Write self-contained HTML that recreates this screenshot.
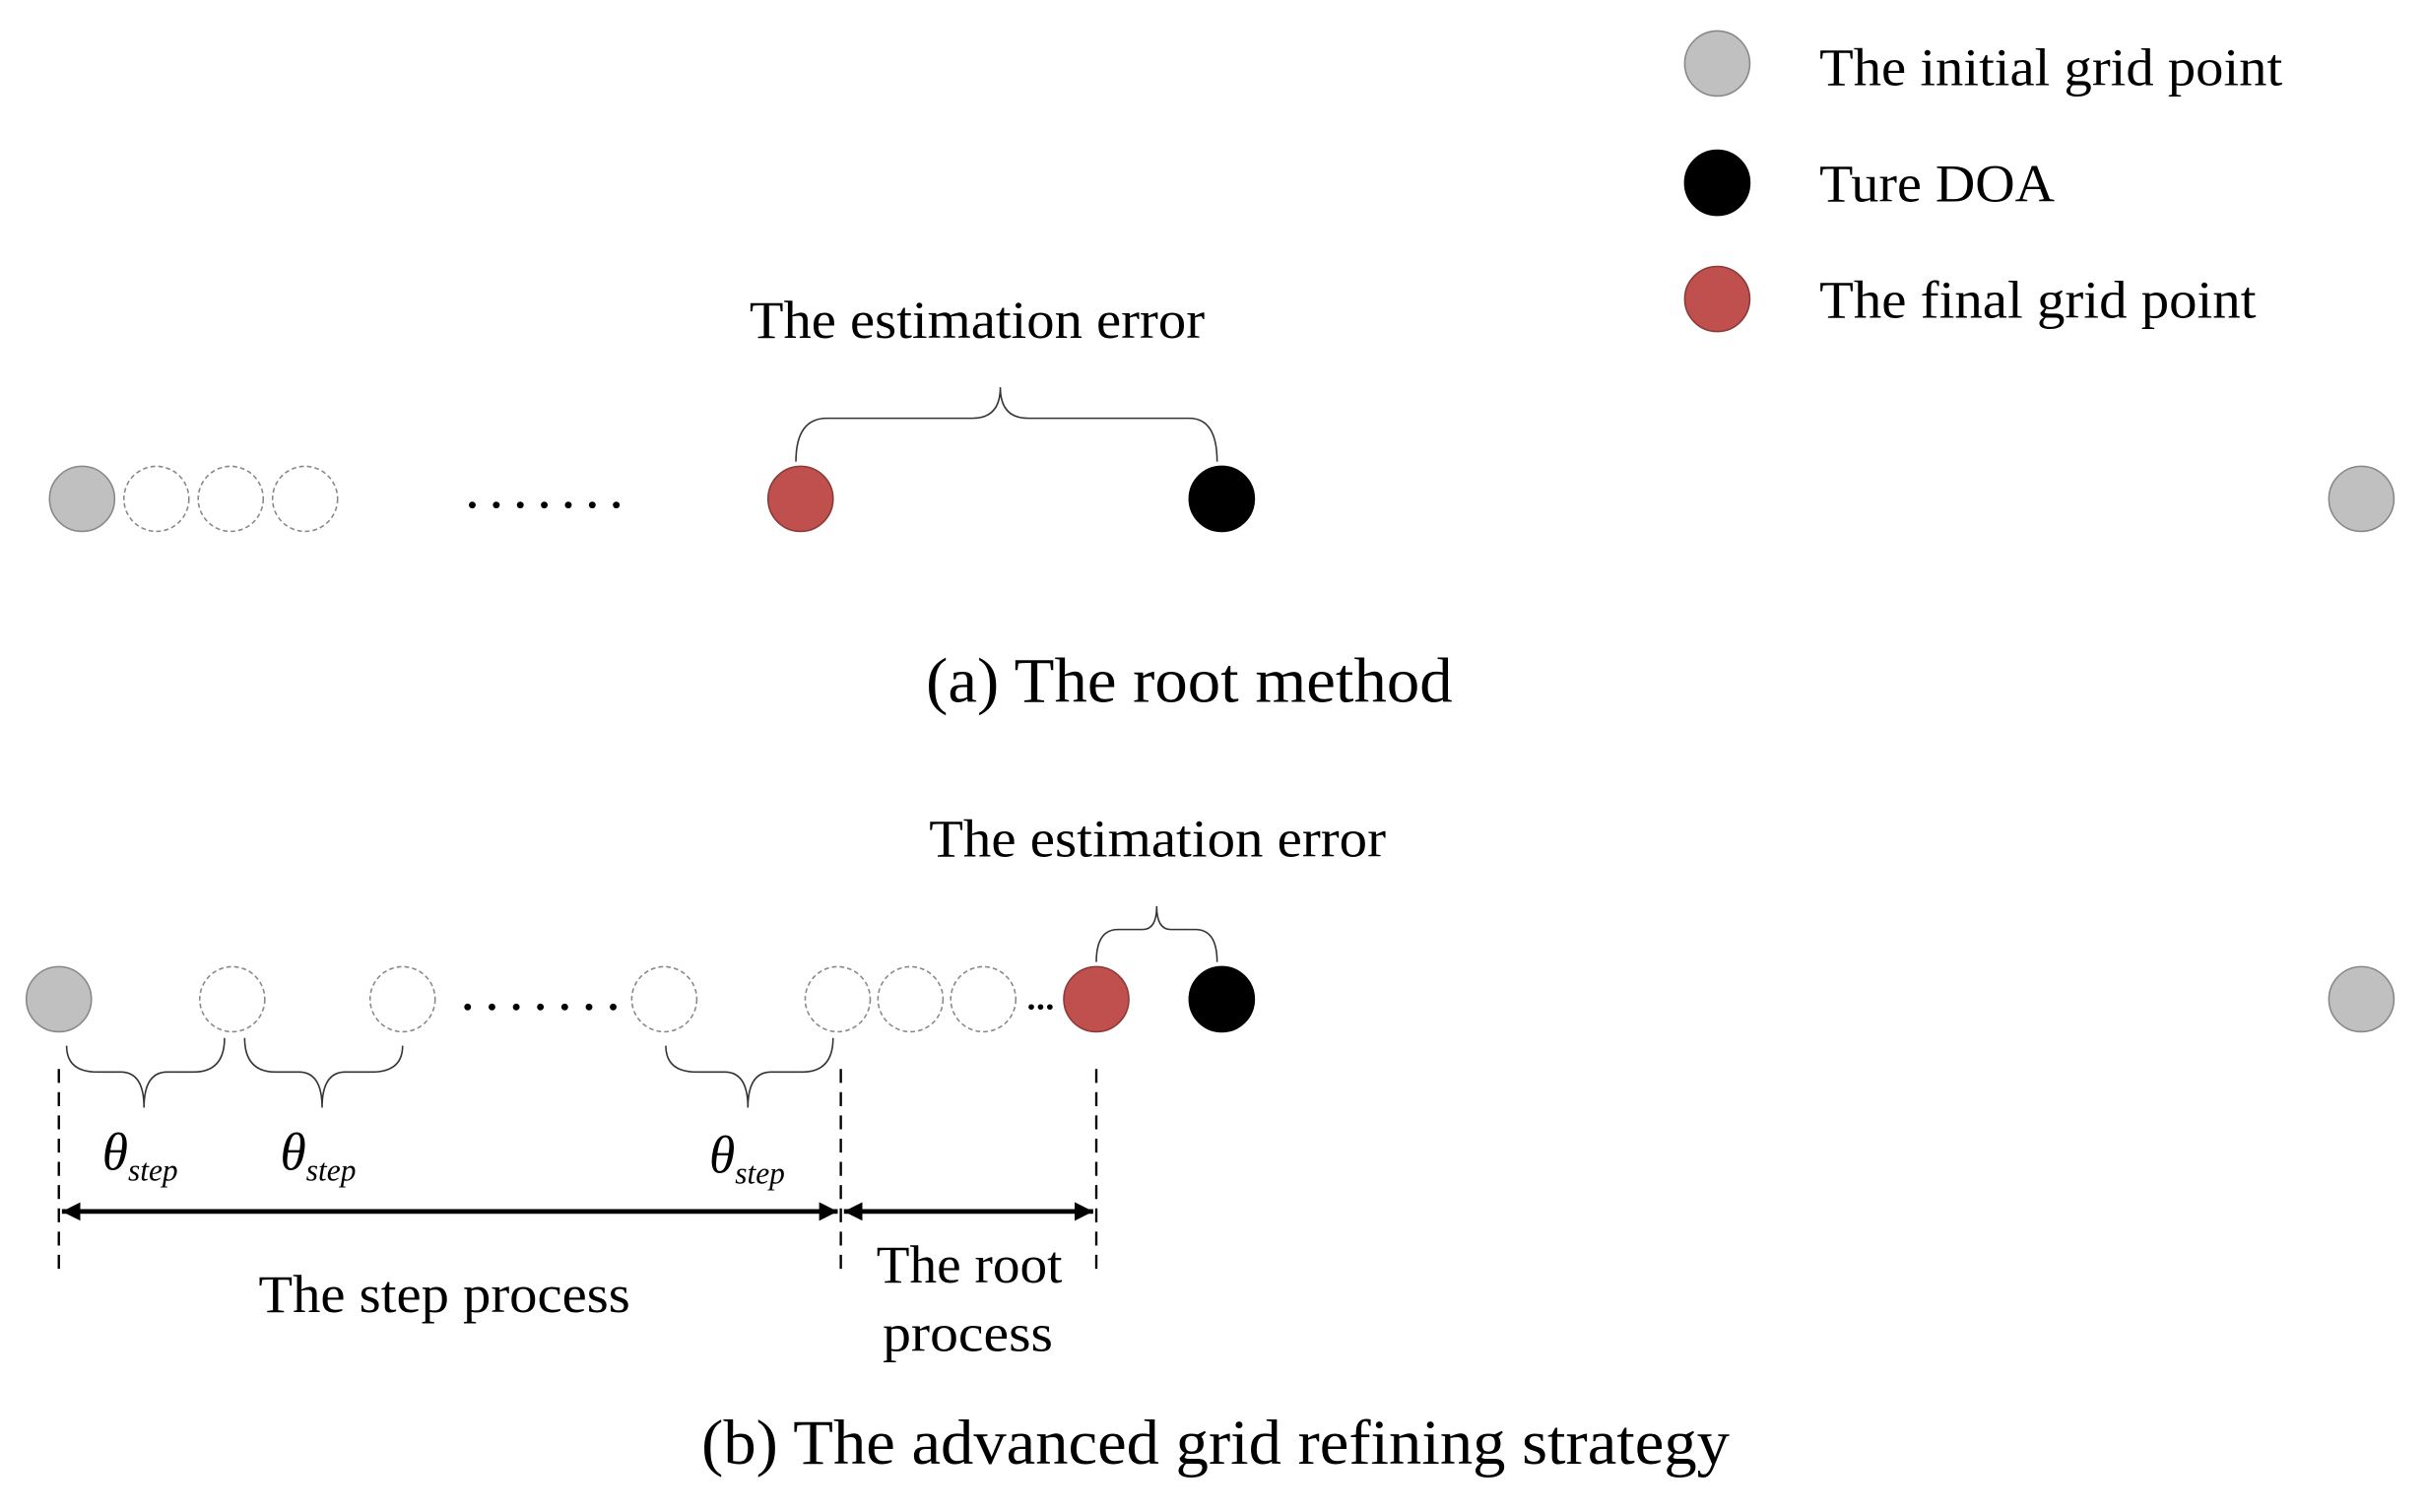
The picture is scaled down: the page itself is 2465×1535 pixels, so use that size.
<!DOCTYPE html>
<html><head><meta charset="utf-8"><style>html,body{margin:0;padding:0;background:#fff}svg{display:block}</style></head>
<body>
<svg width="2465" height="1535" viewBox="0 0 1568 976" preserveAspectRatio="none" xmlns="http://www.w3.org/2000/svg" font-family="'Liberation Serif', serif">
<defs>
<marker id="ah" viewBox="0 0 10 10" refX="10" refY="5" markerWidth="4" markerHeight="4" orient="auto-start-reverse"><path d="M0,0 L10,5 L0,10 z" fill="#000"/></marker>
</defs>
<g stroke="#888" stroke-width="1">
<circle cx="1109" cy="41" r="21" fill="#c0c0c0"/>
<circle cx="1109" cy="118" r="21" fill="#000" stroke="#000"/>
<circle cx="1109" cy="193" r="21" fill="#c0504d" stroke="#8a3a38"/>
</g>
<g font-size="34" fill="#000">
<text x="1175" y="55" textLength="299" lengthAdjust="spacingAndGlyphs">The initial grid point</text>
<text x="1175" y="130" textLength="152" lengthAdjust="spacingAndGlyphs">Ture DOA</text>
<text x="1175" y="205" textLength="282" lengthAdjust="spacingAndGlyphs">The final grid point</text>
</g>
<g stroke="#888" stroke-width="1">
<circle cx="53" cy="322" r="21" fill="#c0c0c0"/>
<circle cx="101" cy="322" r="21" fill="none" stroke-dasharray="3,2"/>
<circle cx="149" cy="322" r="21" fill="none" stroke-dasharray="3,2"/>
<circle cx="197" cy="322" r="21" fill="none" stroke-dasharray="3,2"/>
<circle cx="517" cy="322" r="21" fill="#c0504d" stroke="#8a3a38"/>
<circle cx="789" cy="322" r="21" fill="#000" stroke="#000"/>
<circle cx="1525" cy="322" r="21" fill="#c0c0c0"/>
</g>
<g fill="#000">
<circle cx="305" cy="326" r="2.2"/><circle cx="320.5" cy="326" r="2.2"/><circle cx="336" cy="326" r="2.2"/><circle cx="351.5" cy="326" r="2.2"/><circle cx="367" cy="326" r="2.2"/><circle cx="382.5" cy="326" r="2.2"/><circle cx="398" cy="326" r="2.2"/>
</g>
<path d="M514,298 Q514,270 534,270 L628,270 Q646,270 646,250 Q646,270 664,270 L768,270 Q786,270 786,298" fill="none" stroke="#333" stroke-width="1"/>
<text x="484" y="218" font-size="34" textLength="294" lengthAdjust="spacingAndGlyphs">The estimation error</text>
<text x="598" y="453" font-size="41" textLength="340" lengthAdjust="spacingAndGlyphs">(a) The root method</text>
<g stroke="#888" stroke-width="1">
<circle cx="38" cy="645" r="21" fill="#c0c0c0"/>
<circle cx="150" cy="645" r="21" fill="none" stroke-dasharray="3,2"/>
<circle cx="260" cy="645" r="21" fill="none" stroke-dasharray="3,2"/>
<circle cx="429" cy="645" r="21" fill="none" stroke-dasharray="3,2"/>
<circle cx="541" cy="645" r="21" fill="none" stroke-dasharray="3,2"/>
<circle cx="588" cy="645" r="21" fill="none" stroke-dasharray="3,2"/>
<circle cx="635" cy="645" r="21" fill="none" stroke-dasharray="3,2"/>
<circle cx="708" cy="645" r="21" fill="#c0504d" stroke="#8a3a38"/>
<circle cx="789" cy="645" r="21" fill="#000" stroke="#000"/>
<circle cx="1525" cy="645" r="21" fill="#c0c0c0"/>
</g>
<g fill="#000">
<circle cx="302" cy="650" r="2.2"/><circle cx="317.7" cy="650" r="2.2"/><circle cx="333.4" cy="650" r="2.2"/><circle cx="349" cy="650" r="2.2"/><circle cx="364.7" cy="650" r="2.2"/><circle cx="380.4" cy="650" r="2.2"/><circle cx="396" cy="650" r="2.2"/>
<circle cx="666" cy="650" r="1.8"/><circle cx="672" cy="650" r="1.8"/><circle cx="678" cy="650" r="1.8"/>
</g>
<path d="M708,621 Q708,600 722,600 L738,600 Q747,600 747,585 Q747,600 756,600 L772,600 Q786,600 786,621" fill="none" stroke="#333" stroke-width="1"/>
<text x="600" y="553" font-size="34" textLength="295" lengthAdjust="spacingAndGlyphs">The estimation error</text>
<g fill="none" stroke="#333" stroke-width="1">
<path d="M43,675 Q43,692 63,692 L78,692 Q93,692 93,715 Q93,692 108,692 L125,692 Q145,692 145,670"/>
<path d="M158,670 Q158,692 178,692 L193,692 Q208,692 208,715 Q208,692 223,692 L240,692 Q260,692 260,675"/>
<path d="M430,675 Q430,692 450,692 L468,692 Q483,692 483,715 Q483,692 498,692 L518,692 Q538,692 538,670"/>
</g>
<g stroke="#000" stroke-width="1.5" stroke-dasharray="9,6">
<line x1="38" y1="690" x2="38" y2="825"/>
<line x1="543" y1="690" x2="543" y2="825"/>
<line x1="708" y1="690" x2="708" y2="825"/>
</g>
<g stroke="#000" stroke-width="3">
<line x1="40" y1="782" x2="541" y2="782" marker-start="url(#ah)" marker-end="url(#ah)"/>
<line x1="545" y1="782" x2="706" y2="782" marker-start="url(#ah)" marker-end="url(#ah)"/>
</g>
<g font-style="italic" fill="#000">
<text x="66" y="755" font-size="34">θ<tspan font-size="20" dy="7">step</tspan></text>
<text x="181" y="755" font-size="34">θ<tspan font-size="20" dy="7">step</tspan></text>
<text x="458" y="757" font-size="34">θ<tspan font-size="20" dy="7">step</tspan></text>
</g>
<text x="167" y="847" font-size="34" textLength="240" lengthAdjust="spacingAndGlyphs">The step process</text>
<text x="566" y="828" font-size="34" textLength="120" lengthAdjust="spacingAndGlyphs">The root</text>
<text x="570" y="872" font-size="34" textLength="110" lengthAdjust="spacingAndGlyphs">process</text>
<text x="453" y="945" font-size="41" textLength="664" lengthAdjust="spacingAndGlyphs">(b) The advanced grid refining strategy</text>
</svg>
</body></html>
